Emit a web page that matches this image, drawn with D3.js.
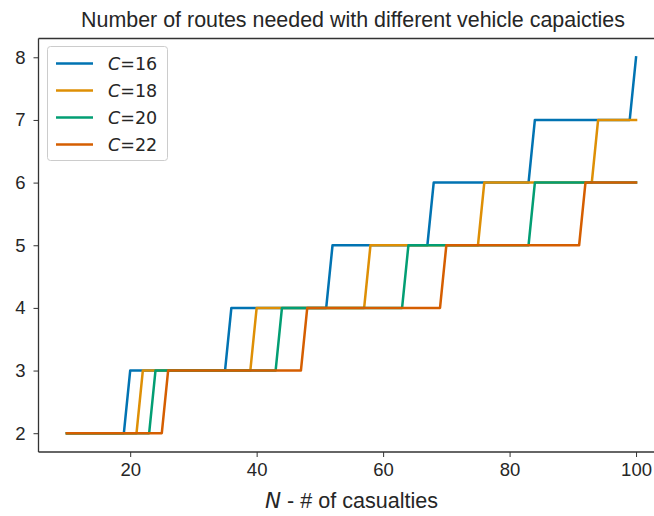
<!DOCTYPE html>
<head>
<meta charset="utf-8">
<title>Routes needed</title>
<style>
  body { margin: 0; background: #fff; }
  svg { display: block; }
  .tick text { font: 18.5px "Liberation Sans", Arial, sans-serif; fill: #262626; }
  .title { font: 22px "Liberation Sans", Arial, sans-serif; fill: #262626; }
  .xlabel { font: 22px "Liberation Sans", Arial, sans-serif; fill: #262626; }
  .legend text { font: 17.5px "DejaVu Sans", sans-serif; fill: #262626; }
</style>
</head>
<body>
<script src="https://cdn.jsdelivr.net/npm/d3@7"></script>
<script>

// step vertices, [N, routes]
var c16 = [[10,2],[19,2],[20,3],[35,3],[36,4],[51,4],[52,5],[67,5],[68,6],[83,6],[84,7],[99,7],[100,8]];
var c18 = [[10,2],[21,2],[22,3],[39,3],[40,4],[57,4],[58,5],[75,5],[76,6],[93,6],[94,7],[100,7]];
var c20 = [[10,2],[23,2],[24,3],[43,3],[44,4],[63,4],[64,5],[83,5],[84,6],[100,6]];
var c22 = [[10,2],[25,2],[26,3],[47,3],[48,4],[69,4],[70,5],[91,5],[92,6],[100,6]];

var capacities = ["16", "18", "20", "22"];
var colors = ["#0173b2", "#de8f05", "#029e73", "#d55e00"];
var xTicks = [20, 40, 60, 80, 100];
var yTicks = [2, 3, 4, 5, 6, 7, 8];

var series = [c16, c18, c20, c22];

var width = 654, height = 516;
var margin = {left: 38.5, right: -10.5, top: 38.5, bottom: 64};

var x = d3.scaleLinear()
    .domain([5.5, 104.5])
    .range([margin.left, width - margin.right]);

var y = d3.scaleLinear()
    .domain([1.7, 8.3])
    .range([height - margin.bottom, margin.top]);

var svg = d3.select("body").append("svg")
    .attr("width", width)
    .attr("height", height);

var line = d3.line()
    .x(function(d) { return x(d[0]); })
    .y(function(d) { return y(d[1]); });

svg.append("g").selectAll("path")
    .data(series)
  .enter().append("path")
    .attr("d", line)
    .attr("fill", "none")
    .attr("stroke", function(d, i) { return colors[i]; })
    .attr("stroke-width", 2.5)
    .attr("stroke-linejoin", "round")
    .attr("stroke-linecap", "square");

// axes
svg.append("g")
    .attr("transform", "translate(0," + (height - margin.bottom) + ")")
    .call(d3.axisBottom(x).tickValues(xTicks).tickFormat(d3.format("d")).tickSize(5).tickPadding(6));

svg.append("g")
    .attr("transform", "translate(" + margin.left + ",0)")
    .call(d3.axisLeft(y).tickValues(yTicks).tickFormat(d3.format("d")).tickSize(5).tickPadding(8));

svg.selectAll(".domain").remove();
svg.selectAll(".tick line").attr("stroke", "#333").attr("stroke-width", 1);

// spines
svg.append("line")
    .attr("x1", margin.left).attr("x2", width)
    .attr("y1", height - margin.bottom).attr("y2", height - margin.bottom)
    .attr("stroke", "#333").attr("stroke-width", 1.3);
svg.append("line")
    .attr("x1", margin.left).attr("x2", width)
    .attr("y1", margin.top).attr("y2", margin.top)
    .attr("stroke", "#333").attr("stroke-width", 1.3);
svg.append("line")
    .attr("x1", margin.left).attr("x2", margin.left)
    .attr("y1", margin.top).attr("y2", height - margin.bottom)
    .attr("stroke", "#333").attr("stroke-width", 1.3);

// title + label
svg.append("text")
    .attr("class", "title")
    .attr("x", 81)
    .attr("y", 27)
    .attr("textLength", 544)
    .attr("lengthAdjust", "spacingAndGlyphs")
    .text("Number of routes needed with different vehicle capaicties");

var xl = svg.append("text")
    .attr("class", "xlabel")
    .attr("x", 265)
    .attr("y", 508.3)
    .attr("textLength", 173)
    .attr("lengthAdjust", "spacingAndGlyphs");
xl.append("tspan").attr("font-family", "DejaVu Sans").attr("font-style", "italic").text("N");
xl.append("tspan").text(" - # of casualties");

// legend
var legend = svg.append("g").attr("class", "legend");
legend.append("rect")
    .attr("x", 47.5).attr("y", 46.5)
    .attr("width", 120).attr("height", 114)
    .attr("rx", 3)
    .attr("fill", "#fff")
    .attr("stroke", "#ccc");

var items = legend.selectAll("g.item")
    .data(capacities)
  .enter().append("g")
    .attr("class", "item")
    .attr("transform", function(d, i) { return "translate(0," + (63.5 + i * 27) + ")"; });

items.append("line")
    .attr("x1", 56).attr("x2", 93)
    .attr("stroke", function(d, i) { return colors[i]; })
    .attr("stroke-width", 2.5);

var lt = items.append("text")
    .attr("x", 108)
    .attr("dy", "0.36em");
lt.append("tspan").attr("font-style", "italic").text("C");
lt.append("tspan").text(function(d) { return "=" + d; });

</script>
</body>
